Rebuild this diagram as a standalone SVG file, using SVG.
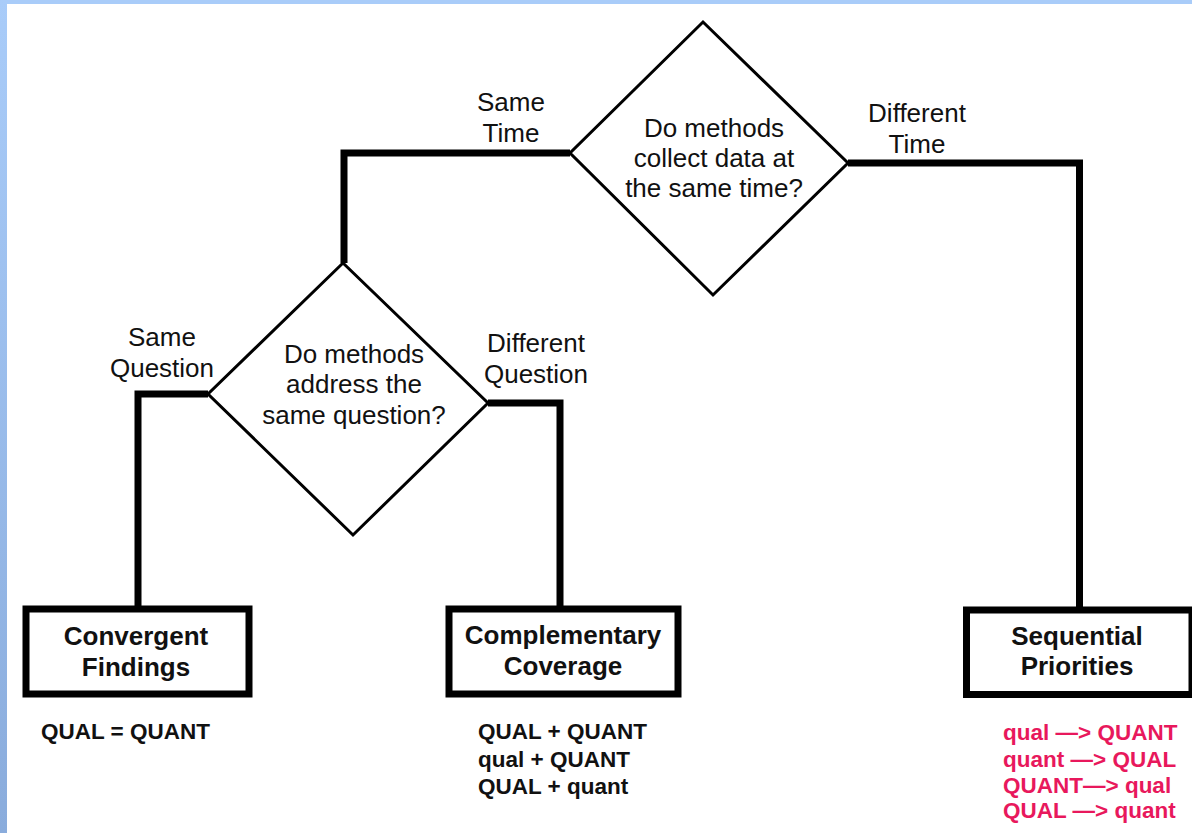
<svg xmlns="http://www.w3.org/2000/svg" width="1192" height="833" viewBox="0 0 1192 833">
  <defs>
    <linearGradient id="sideGrad" x1="0" y1="0" x2="0" y2="1">
      <stop offset="0" stop-color="#a9ccf9"/>
      <stop offset="1" stop-color="#8aacdc"/>
    </linearGradient>
    <style>
      .lbl { font-family: "Liberation Sans", Arial, sans-serif; font-size: 26px; fill: #111; text-anchor: middle; }
      .box { fill: #ffffff; stroke: #000; stroke-width: 7; }
      .dia { fill: #ffffff; stroke: #000; stroke-width: 3; stroke-linejoin: miter; }
      .boxtxt { font-family: "Liberation Sans", Arial, sans-serif; font-size: 26px; font-weight: bold; fill: #111; text-anchor: middle; }
      .list { font-family: "Liberation Sans", Arial, sans-serif; font-size: 22.5px; font-weight: bold; fill: #111; }
      .red { fill: #e8185c; }
      .conn { fill: none; stroke: #000; stroke-width: 7; stroke-linejoin: miter; stroke-linecap: butt; }
    </style>
  </defs>

  <rect x="0" y="0" width="1192" height="833" fill="#ffffff"/>
  <rect x="0" y="0" width="1192" height="4" fill="#a9ccf9"/>
  <rect x="0" y="0" width="7" height="833" fill="url(#sideGrad)"/>

  <g id="connectors">
    <path class="conn" d="M570,153 H344 V263"/>
    <path class="conn" d="M848,163 H1079.5 V607"/>
    <path class="conn" d="M208,394 H138 V606"/>
    <path class="conn" d="M488,403 H560 V606"/>
  </g>

  <g id="edge-labels">
    <text class="lbl"><tspan x="511" y="111">Same</tspan><tspan x="511" y="142">Time</tspan></text>
    <text class="lbl"><tspan x="917" y="122">Different</tspan><tspan x="917" y="153">Time</tspan></text>
    <text class="lbl"><tspan x="162" y="346">Same</tspan><tspan x="162" y="377">Question</tspan></text>
    <text class="lbl"><tspan x="536" y="352">Different</tspan><tspan x="536" y="383">Question</tspan></text>
  </g>

  <g id="decision-time">
    <polygon class="dia" points="703,22 848,163 713,295 570,153"/>
    <text class="lbl"><tspan x="714" y="137">Do methods</tspan><tspan x="714" y="167">collect data at</tspan><tspan x="714" y="197">the same time?</tspan></text>
  </g>

  <g id="decision-question">
    <polygon class="dia" points="343,263 488,403 353,535 208,394"/>
    <text class="lbl"><tspan x="354" y="363">Do methods</tspan><tspan x="354" y="393">address the</tspan><tspan x="354" y="424">same question?</tspan></text>
  </g>

  <g id="convergent">
    <rect class="box" x="26" y="609" width="223" height="85"/>
    <text class="boxtxt"><tspan x="136" y="645">Convergent</tspan><tspan x="136" y="676">Findings</tspan></text>
    <text class="list" x="41" y="739">QUAL = QUANT</text>
  </g>

  <g id="complementary">
    <rect class="box" x="449" y="609" width="229" height="85"/>
    <text class="boxtxt"><tspan x="563" y="644">Complementary</tspan><tspan x="563" y="675">Coverage</tspan></text>
    <text class="list"><tspan x="478" y="739">QUAL + QUANT</tspan><tspan x="478" y="767">qual + QUANT</tspan><tspan x="478" y="794">QUAL + quant</tspan></text>
  </g>

  <g id="sequential">
    <rect class="box" x="966.5" y="610" width="225.5" height="84.5"/>
    <text class="boxtxt"><tspan x="1077" y="645">Sequential</tspan><tspan x="1077" y="675">Priorities</tspan></text>
    <text class="list red"><tspan x="1003" y="740">qual —&gt; QUANT</tspan><tspan x="1003" y="767">quant —&gt; QUAL</tspan><tspan x="1003" y="793">QUANT—&gt; qual</tspan><tspan x="1003" y="818">QUAL —&gt; quant</tspan></text>
  </g>
</svg>
